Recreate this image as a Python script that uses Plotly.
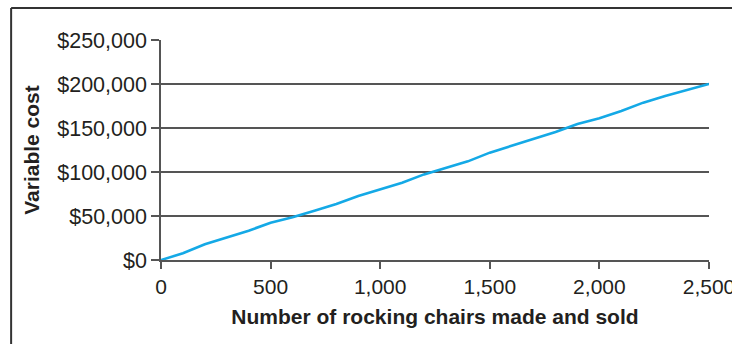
import plotly.graph_objects as go

# Units made and sold, and the variable cost incurred at each volume
chairs = [0, 100, 200, 300, 400, 500, 600, 700, 800, 900, 1000, 1100, 1200,
          1300, 1400, 1500, 1600, 1700, 1800, 1900, 2000, 2100, 2200, 2300,
          2400, 2500]
variable_cost = [0, 7600, 17800, 25800, 33300, 42400, 48500, 56000, 63600,
                 72700, 80700, 87900, 97300, 104900, 112100, 122000, 129900,
                 137100, 145400, 154500, 161000, 169300, 178800, 186400,
                 193200, 200000]

x_ticks = [0, 500, 1000, 1500, 2000, 2500]
x_labels = ["0", "500", "1,000", "1,500", "2,000", "2,500"]
y_ticks = [0, 50000, 100000, 150000, 200000, 250000]
y_labels = ["$0", "$50,000", "$100,000", "$150,000", "$200,000", "$250,000"]

FONT = "Liberation Sans, Arial, Helvetica, sans-serif"
INK = "#231f20"
GRID = "#555555"
FRAME = "#333333"

fig = go.Figure()
fig.add_trace(go.Scatter(
    x=chairs, y=variable_cost, mode="lines",
    line=dict(color="#14a9e6", width=2.6),
    hoverinfo="skip", showlegend=False,
))

# Outer frame around the whole chart (left and top edges fall inside the view)
frame_edges = [
    dict(x0=-0.2735, x1=-0.2735, y0=-0.6, y1=1.145),
    dict(x0=-0.2735, x1=1.3, y0=1.145, y1=1.145),
]
fig.update_layout(
    width=732, height=344,
    margin=dict(l=161, r=23, t=40, b=84, autoexpand=False),
    paper_bgcolor="white", plot_bgcolor="white",
    font=dict(family=FONT, color=INK),
    shapes=[dict(type="line", xref="paper", yref="paper",
                 line=dict(color=FRAME, width=2), layer="above", **e)
            for e in frame_edges],
)

fig.update_xaxes(
    range=[0, 2500], tickvals=x_ticks, ticktext=x_labels,
    ticklabeloverflow="allow", automargin=False,
    showgrid=False, zeroline=False,
    showline=True, linecolor=GRID, linewidth=1.5,
    ticks="outside", ticklen=7, tickwidth=1.5, tickcolor=GRID,
    tickfont=dict(size=21, family=FONT, color=INK),
    title=dict(text="<b>Number of rocking chairs made and sold</b>",
               font=dict(size=21, family=FONT, color=INK), standoff=12),
)
fig.update_yaxes(
    range=[0, 250000], tickvals=y_ticks, ticktext=y_labels,
    automargin=False,
    showgrid=True, gridcolor=GRID, gridwidth=1.5, zeroline=False,
    showline=True, linecolor=GRID, linewidth=1.5,
    ticks="outside", ticklen=8, tickwidth=1.5, tickcolor=GRID,
    tickfont=dict(size=21.5, family=FONT, color=INK),
    title=dict(text="<b>Variable cost</b>",
               font=dict(size=21, family=FONT, color=INK), standoff=12),
)

fig.write_html("out.html")
